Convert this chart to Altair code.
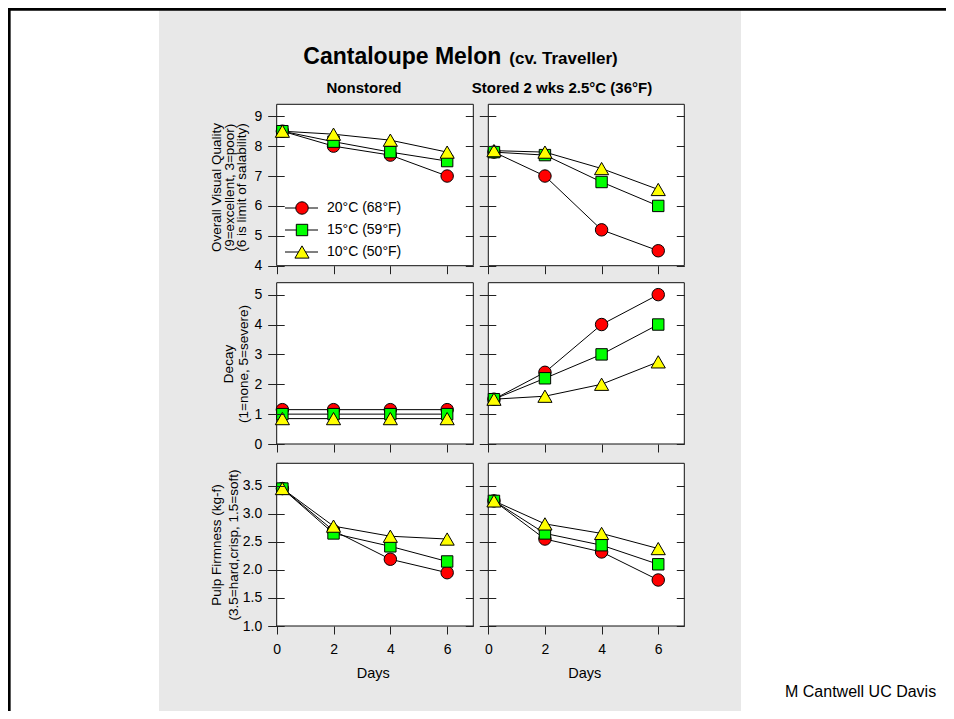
import altair as alt
import pandas as pd

# ---------------- data ----------------
days = [0.2, 2, 4, 6]
series = ["20°C (68°F)", "15°C (59°F)", "10°C (50°F)"]
series_fill = ["#ff0000", "#00ff00", "#ffff00"]
series_shape = ["circle", "square", "triangle-up"]
series_size = [155, 130, 200]

ovq_nonstored_20 = [8.5, 8.0, 7.7, 7.0]
ovq_nonstored_15 = [8.5, 8.15, 7.8, 7.5]
ovq_nonstored_10 = [8.5, 8.4, 8.2, 7.8]
ovq_stored_20 = [7.8, 7.0, 5.2, 4.5]
ovq_stored_15 = [7.8, 7.7, 6.8, 6.0]
ovq_stored_10 = [7.85, 7.8, 7.25, 6.55]

decay_nonstored_20 = [1.15, 1.15, 1.15, 1.15]
decay_nonstored_15 = [1.0, 1.0, 1.0, 1.0]
decay_nonstored_10 = [0.85, 0.85, 0.85, 0.85]
decay_stored_20 = [1.5, 2.4, 4.0, 5.0]
decay_stored_15 = [1.5, 2.2, 3.0, 4.0]
decay_stored_10 = [1.5, 1.6, 2.0, 2.75]

firm_nonstored_20 = [3.45, 2.7, 2.19, 1.95]
firm_nonstored_15 = [3.45, 2.65, 2.42, 2.15]
firm_nonstored_10 = [3.45, 2.78, 2.6, 2.55]
firm_stored_20 = [3.23, 2.55, 2.32, 1.82]
firm_stored_15 = [3.23, 2.65, 2.44, 2.1]
firm_stored_10 = [3.23, 2.82, 2.65, 2.38]

day_ticks = [0, 2, 4, 6]
ovq_ticks = [4, 5, 6, 7, 8, 9]
decay_ticks = [0, 1, 2, 3, 4, 5]
firm_ticks = [1.0, 1.5, 2.0, 2.5, 3.0, 3.5]

title_main = "Cantaloupe Melon"
title_sub = "(cv. Traveller)"
col_titles = ["Nonstored", "Stored 2 wks 2.5°C (36°F)"]
row_titles = [
    ["Overall Visual Quality", "(9=excellent, 3=poor)", "(6 is limit of salability)"],
    ["Decay", "(1=none, 5=severe)"],
    ["Pulp Firmness (kg-f)", "(3.5=hard,crisp, 1.5=soft)"],
]
x_title = "Days"
credit = "M Cantwell UC Davis"

# ---------------- layout ----------------
W, H = 938, 703
FONT = "Liberation Sans, Arial, Helvetica, sans-serif"
TICK = "#222222"
COLS = [(268.7, 465.3), (480.3, 676.3)]
ROWS = [(96.3, 257.7), (274.7, 436.0), (455.3, 618.0)]
XDOM = [0, 6.92]

ONE = pd.DataFrame({"k": [0]})


def make_df(s20, s15, s10):
    rows = []
    for i, d in enumerate(days):
        for name, vals in zip(series, [s20, s15, s10]):
            rows.append({"day": d, "series": name, "value": vals[i]})
    return pd.DataFrame(rows)


fill_enc = alt.Fill("series:N", scale=alt.Scale(domain=series, range=series_fill), legend=None)
shape_enc = alt.Shape("series:N", scale=alt.Scale(domain=series, range=series_shape), legend=None)
size_enc = alt.Size("series:N", scale=alt.Scale(type="ordinal", domain=series, range=series_size),
                    legend=None)


def panel_layers(row, col, df, ticks, ydom, fmt):
    px0, px1 = COLS[col]
    py0, py1 = ROWS[row]
    xs = alt.Scale(domain=XDOM, range=[px0, px1], nice=False, zero=False)
    ys = alt.Scale(domain=ydom, range=[py1, py0], nice=False, zero=False)
    frame = alt.Chart(ONE).mark_rect(fill="white", stroke="#111111", strokeWidth=1).encode(
        x=alt.value(px0), x2=alt.value(px1), y=alt.value(py0), y2=alt.value(py1)
    )
    right_axis = alt.Axis(
        orient="right", values=ticks, offset=px1 - 8 - W, tickSize=8, labels=False,
        domain=False, grid=False, title=None, tickColor=TICK, tickWidth=1, zindex=1,
    )
    lines = alt.Chart(df).mark_line(color="black", strokeWidth=1).encode(
        x=alt.X("day:Q", scale=xs, axis=None),
        y=alt.Y("value:Q", scale=ys, axis=right_axis),
        detail="series:N",
        order="day:Q",
    )
    left_axis = alt.Axis(
        orient="left", values=ticks, offset=-(px0 + 7.5), tickSize=16.5,
        labels=(col == 0), labelPadding=6, format=fmt, labelFont=FONT, labelFontSize=14,
        labelColor="black", labelFlush=False, labelOverlap=False,
        domain=False, grid=False, title=None, tickColor=TICK, tickWidth=1, zindex=1,
    )
    bottom_axis = alt.Axis(
        orient="bottom", values=day_ticks, offset=py1 - H, tickSize=8,
        labels=(row == 2), labelPadding=8, format="d", labelFont=FONT, labelFontSize=14,
        labelColor="black", labelFlush=False, labelOverlap=False,
        domain=False, grid=False, title=None, tickColor=TICK, tickWidth=1, zindex=1,
    )
    points = alt.Chart(df).mark_point(
        filled=True, opacity=1, fillOpacity=1, stroke="black", strokeWidth=1
    ).encode(
        x=alt.X("day:Q", scale=xs, axis=bottom_axis),
        y=alt.Y("value:Q", scale=ys, axis=left_axis),
        fill=fill_enc,
        shape=shape_enc,
        size=size_enc,
    )
    return [frame, lines, points]


def text_layer(txt, x, y, size, bold=False, align="center", baseline="alphabetic",
               angle=0, line_height=None):
    kw = dict(text=txt, font=FONT, fontSize=size, fontWeight="bold" if bold else "normal",
              align=align, baseline=baseline, color="black")
    if angle:
        kw["angle"] = angle
    if line_height is not None:
        kw["lineHeight"] = line_height
    return alt.Chart(ONE).mark_text(**kw).encode(x=alt.value(x), y=alt.value(y))


layers = []

# background and slide frame
layers.append(alt.Chart(ONE).mark_rect(fill="#e8e8e8").encode(
    x=alt.value(151), x2=alt.value(733), y=alt.value(0), y2=alt.value(H)))
layers.append(alt.Chart(ONE).mark_rule(color="black", strokeWidth=2.7).encode(
    x=alt.value(0), x2=alt.value(W), y=alt.value(1.3)))
layers.append(alt.Chart(ONE).mark_rule(color="black", strokeWidth=2.7).encode(
    x=alt.value(1.3), y=alt.value(0), y2=alt.value(H)))

panel_specs = [
    (0, 0, make_df(ovq_nonstored_20, ovq_nonstored_15, ovq_nonstored_10), ovq_ticks, [4, 9.4], "d"),
    (0, 1, make_df(ovq_stored_20, ovq_stored_15, ovq_stored_10), ovq_ticks, [4, 9.4], "d"),
    (1, 0, make_df(decay_nonstored_20, decay_nonstored_15, decay_nonstored_10), decay_ticks, [0, 5.4], "d"),
    (1, 1, make_df(decay_stored_20, decay_stored_15, decay_stored_10), decay_ticks, [0, 5.4], "d"),
    (2, 0, make_df(firm_nonstored_20, firm_nonstored_15, firm_nonstored_10), firm_ticks, [1.0, 3.9], ".1f"),
    (2, 1, make_df(firm_stored_20, firm_stored_15, firm_stored_10), firm_ticks, [1.0, 3.9], ".1f"),
]
for spec in panel_specs:
    layers.extend(panel_layers(*spec))

# legend inside first panel
leg_df = pd.DataFrame({"series": series})
leg_y = alt.Y("series:N", scale=alt.Scale(type="point", domain=series, range=[200, 244], padding=0), axis=None)
layers.append(alt.Chart(leg_df).mark_rule(color="black", strokeWidth=1).encode(
    x=alt.value(277), x2=alt.value(310), y=leg_y))
layers.append(alt.Chart(leg_df).mark_point(
    filled=True, opacity=1, fillOpacity=1, stroke="black", strokeWidth=1
).encode(x=alt.value(294), y=leg_y, fill=fill_enc, shape=shape_enc, size=size_enc))
layers.append(alt.Chart(leg_df).mark_text(
    font=FONT, fontSize=14, align="left", baseline="middle", color="black"
).encode(x=alt.value(319), y=leg_y, text="series:N"))

# titles
layers.append(text_layer(title_main, 295.3, 56.3, 23, bold=True, align="left"))
layers.append(text_layer(title_sub, 501.3, 56.3, 17, bold=True, align="left"))
layers.append(text_layer(col_titles[0], 356, 85.3, 15, bold=True))
layers.append(text_layer(col_titles[1], 554, 85.3, 15, bold=True))

# row titles (rotated, multi-line)
layers.append(text_layer(row_titles[0], 209.3, 179.5, 13.5, angle=270, baseline="middle", line_height=12.5))
layers.append(text_layer(row_titles[1], 221.2, 356, 13.5, angle=270, baseline="middle", line_height=15))
layers.append(text_layer(row_titles[2], 209.3, 537, 13.5, angle=270, baseline="middle", line_height=16.7))

# x titles and credit
layers.append(text_layer(x_title, 365.3, 670.3, 14.5))
layers.append(text_layer(x_title, 576.7, 670.3, 14.5))
layers.append(text_layer(credit, 777, 689.3, 16, align="left"))

chart = (
    alt.layer(*layers)
    .resolve_scale(x="independent", y="independent")
    .resolve_axis(x="independent", y="independent")
    .properties(width=W, height=H, autosize=alt.AutoSizeParams(type="none"), padding=0,
                background="white")
    .configure_view(stroke=None)
)

chart.save("out.html", embed_options={"renderer": "svg", "actions": False})
